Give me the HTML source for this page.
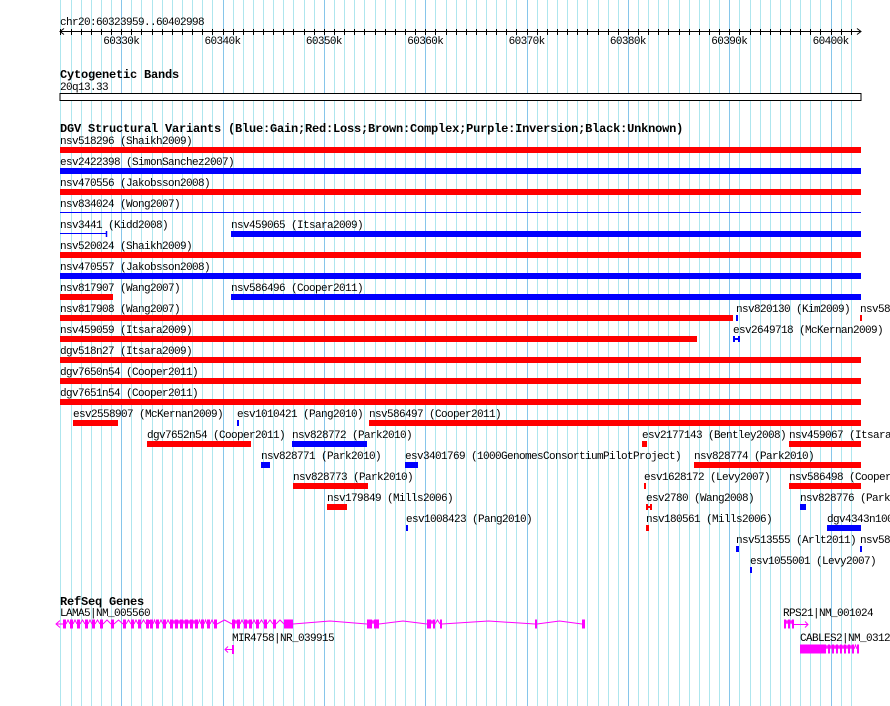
<!DOCTYPE html>
<html><head><meta charset="utf-8"><style>
html,body{margin:0;padding:0;background:#fff;width:890px;height:706px;overflow:hidden}
svg{display:block}
text{font-family:"Liberation Mono",monospace;font-size:11px;letter-spacing:-0.6px;fill:#000}
.t{font-weight:bold;font-size:12px;letter-spacing:-0.2px}
</style></head><body>
<svg id="c" width="890" height="706" xmlns="http://www.w3.org/2000/svg"></svg>
<script>
// region view, offsets in kb from 60323959
const regionStartKb = 60323.959;
const regionLenKb = 79.041;
const majorTicksKb = [60330,60340,60350,60360,60370,60380,60390,60400];
const tickLabels = ["60330k","60340k","60350k","60360k","60370k","60380k","60390k","60400k"];
// SV features: label, start offset kb, end offset kb, row, kind
const svLabels = ["nsv518296 (Shaikh2009)","esv2422398 (SimonSanchez2007)","nsv470556 (Jakobsson2008)","nsv834024 (Wong2007)","nsv3441 (Kidd2008)","nsv459065 (Itsara2009)","nsv520024 (Shaikh2009)","nsv470557 (Jakobsson2008)","nsv817907 (Wang2007)","nsv586496 (Cooper2011)","nsv817908 (Wang2007)","nsv820130 (Kim2009)","nsv58","nsv459059 (Itsara2009)","esv2649718 (McKernan2009)","dgv518n27 (Itsara2009)","dgv7650n54 (Cooper2011)","dgv7651n54 (Cooper2011)","esv2558907 (McKernan2009)","esv1010421 (Pang2010)","nsv586497 (Cooper2011)","dgv7652n54 (Cooper2011)","nsv828772 (Park2010)","esv2177143 (Bentley2008)","nsv459067 (Itsara2009)","nsv828771 (Park2010)","esv3401769 (1000GenomesConsortiumPilotProject)","nsv828774 (Park2010)","nsv828773 (Park2010)","esv1628172 (Levy2007)","nsv586498 (Cooper2011)","nsv179849 (Mills2006)","esv2780 (Wang2008)","nsv828776 (Park2010)","esv1008423 (Pang2010)","nsv180561 (Mills2006)","dgv4343n100","nsv513555 (Arlt2011)","nsv58","esv1055001 (Levy2007)"];
const svStarts = [0,0,0,0,0,16.88,0,0,0,16.88,0,66.71,78.95,0,66.42,0,0,0,1.28,17.47,30.50,8.59,22.90,57.44,71.95,19.84,34.05,62.57,23.0,57.63,71.95,26.35,57.83,73.03,34.15,57.83,75.70,66.71,78.95,68.10];
const svEnds = [79.04,79.04,79.04,79.04,4.64,79.04,79.04,79.04,5.23,79.04,66.42,66.91,79.15,62.87,67.11,79.04,79.04,79.04,5.72,17.67,79.04,18.85,30.30,57.93,79.04,20.72,35.33,79.04,30.40,57.83,79.04,28.32,58.42,73.62,34.35,58.13,79.04,67.01,79.15,68.30];
const svRows = [0,1,2,3,4,4,5,6,7,7,8,8,8,9,9,10,11,12,13,13,13,14,14,14,14,15,15,15,16,16,16,17,17,17,18,18,18,19,19,20];
const svKinds = ["loss","gain","loss","line","line","gain","loss","gain","loss","gain","loss","gain","loss","loss","hgain","loss","loss","loss","loss","gain","loss","loss","gain","loss","loss","gain","gain","loss","loss","loss","loss","loss","hloss","gain","gain","loss","gain","hgain","gain","gain"];
// genes
const lamaExonStarts = [0.30,0.99,1.68,2.47,3.16,3.95,5.03,6.22,7.01,7.70,8.49,8.88,9.47,10.17,10.86,11.35,11.84,12.34,12.83,13.32,13.92,14.51,15.20,16.97,17.47,18.16,18.65,19.34,20.13,21.02,22.11,30.30,30.99,36.22,36.81,37.50,46.88,51.52];
const lamaExonLens = [0.3,0.3,0.3,0.3,0.3,0.3,0.3,0.3,0.3,0.3,0.3,0.3,0.3,0.3,0.3,0.3,0.3,0.3,0.3,0.3,0.3,0.3,0.3,0.3,0.3,0.3,0.3,0.3,0.3,0.3,0.9,0.5,0.5,0.4,0.2,0.1,0.1,0.3];
const rpsExonStarts = [71.45,71.85,72.25];
const cablesExonStarts = [73.03,75.80,76.20,76.60,77.00,77.40,77.80,78.20,78.60];
const cablesExonLens = [2.55,0.2,0.15,0.15,0.15,0.15,0.15,0.15,0.15];

const svg = document.getElementById('c');
const NS = 'http://www.w3.org/2000/svg';
const x = kb => 60 + kb * (801 / regionLenKb);
const xa = abs => x(abs - regionStartKb);
function mk(tag, attrs, parent) {
  const e = document.createElementNS(NS, tag);
  for (const k in attrs) e.setAttribute(k, attrs[k]);
  (parent || svg).appendChild(e);
  return e;
}
function txt(s, xx, yy, cls, parent) {
  const t = mk('text', {x: xx, y: yy}, parent);
  if (cls) t.setAttribute('class', cls);
  t.textContent = s;
  return t;
}
// grid
const grid = mk('g', {});


for (let k = 60324; k <= 60402; k++) {
  const gx = Math.round(xa(k)) + 0.5;
  mk('line', {x1: gx, x2: gx, y1: 0, y2: 706, stroke: k % 10 === 0 ? '#86c6ea' : '#aee6ee', 'stroke-width': 1}, grid);
}
// ruler
const ruler = mk('g', {});


const loc = txt('chr20:60323959..60402998', 60, 25, '', ruler);


mk('line', {x1: 60, x2: 861, y1: 31.5, y2: 31.5, stroke: '#000'}, ruler);
mk('path', {d: 'M64 28.5 L60 31.5 L64 34.5 M857 28.5 L861 31.5 L857 34.5', stroke: '#000', fill: 'none'}, ruler);
for (let k = 60324; k <= 60402; k++) {
  const tx = Math.round(xa(k)) + 0.5;
  mk('line', {x1: tx, x2: tx, y1: 29, y2: 35, stroke: '#000'}, ruler);
}
majorTicksKb.forEach((k, i) => {
  const t = txt(tickLabels[i], xa(k) - 18, 44, '', ruler);
  
  
});
// cytoband
const cyto = mk('g', {});


txt('Cytogenetic Bands', 60, 78, 't', cyto);
txt('20q13.33', 60, 90, '', cyto);
mk('rect', {x: 60, y: 93.5, width: 801, height: 7, fill: '#fff', stroke: '#000'}, cyto);
// DGV
const dgv = mk('g', {});


txt('DGV Structural Variants (Blue:Gain;Red:Loss;Brown:Complex;Purple:Inversion;Black:Unknown)', 60, 132, 't', dgv);
svLabels.forEach((lab, i) => {
  const top = 147 + 21 * svRows[i];
  const x1 = Math.round(x(svStarts[i])), x2 = Math.max(Math.round(x(svEnds[i])), x1 + 2);
  const kind = svKinds[i];
  const g = mk('g', {}, dgv);
  
  
  txt(lab, x1, top - 3, '', g);
  const col = (kind === 'loss' || kind === 'hloss') ? '#ff0000' : '#0000ff';
  if (kind === 'line') {
    mk('line', {x1: x1, x2: x2, y1: top + 2.5, y2: top + 2.5, stroke: col}, g);
    if (x2 < 800) mk('line', {x1: x2 - 0.5, x2: x2 - 0.5, y1: top, y2: top + 6, stroke: col, 'stroke-width': 1.5}, g);
  } else if (kind === 'hgain' || kind === 'hloss') {
    mk('rect', {x: x1, y: top, width: 2, height: 6, fill: col}, g);
    mk('rect', {x: x2 - 2, y: top, width: 2, height: 6, fill: col}, g);
    mk('rect', {x: x1, y: top + 2, width: x2 - x1, height: 2, fill: col}, g);
  } else {
    mk('rect', {x: x1, y: top, width: x2 - x1, height: 6, fill: col}, g);
  }
});
// genes
const genes = mk('g', {});


txt('RefSeq Genes', 60, 605, 't', genes);
function drawGene(name, lx, ly, starts, lens, cy, parent) {
  const g = mk('g', {}, parent);
  
  
  txt(name, lx, ly, '', g);
  for (let i = 0; i < starts.length; i++) {
    const ex1 = Math.round(x(starts[i]));
    const ex2 = Math.max(Math.round(x(starts[i] + lens[i])), ex1 + 2);
    mk('rect', {x: ex1, y: cy - 4.5, width: ex2 - ex1, height: 9, fill: '#ff00ff'}, g);
    if (i < starts.length - 1) {
      const nx = Math.round(x(starts[i + 1]));
      const mid = (ex2 + nx) / 2;
      const h = nx - ex2 > 30 ? 3 : 4;
      mk('polyline', {points: ex2 + ',' + cy + ' ' + mid + ',' + (cy - h) + ' ' + nx + ',' + cy, fill: 'none', stroke: '#ff00ff'}, g);
    }
  }
  return g;
}
const lama = drawGene('LAMA5|NM_005560', 60, 616, lamaExonStarts, lamaExonLens, 624, genes);
mk('path', {d: 'M56 624 L64 624 M60 620.5 L56 624 L60 627.5', stroke: '#ff00ff', fill: 'none'}, lama);
const mir = mk('g', {}, genes);


txt('MIR4758|NR_039915', 232, 641, '', mir);
mk('rect', {x: 232, y: 645, width: 2, height: 9, fill: '#ff00ff'}, mir);
mk('path', {d: 'M225 649.5 L232 649.5 M228 646.5 L225 649.5 L228 652.5', stroke: '#ff00ff', fill: 'none'}, mir);
const rps = drawGene('RPS21|NM_001024', 783, 616, rpsExonStarts, [0.2, 0.2, 0.2], 624, genes);
mk('path', {d: 'M794 624.5 L808 624.5 M805 621.5 L808 624.5 L805 627.5', stroke: '#ff00ff', fill: 'none'}, rps);
drawGene('CABLES2|NM_031215', 800, 641, cablesExonStarts, cablesExonLens, 649, genes);
</script>
</body></html>
